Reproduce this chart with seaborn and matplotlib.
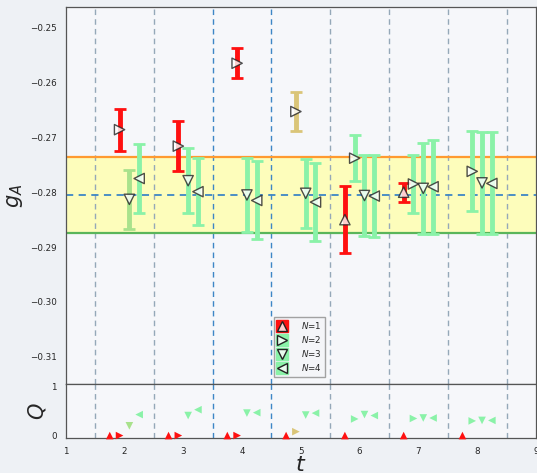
import numpy as np
import pandas as pd
import matplotlib
matplotlib.use("Agg")
import matplotlib.pyplot as plt
from matplotlib.colors import LinearSegmentedColormap
from matplotlib.lines import Line2D
from matplotlib.legend_handler import HandlerTuple
import seaborn as sns

# ---- data -------------------------------------------------------------
t_vals = [2, 3, 4, 5, 6, 7, 8]
n_states = [1, 2, 3, 4]

# g_A estimates and uncertainties for each number of states N
gA_N1 = [np.nan, np.nan, np.nan, np.nan, -0.2850, -0.2800, np.nan]
err_N1 = [np.nan, np.nan, np.nan, np.nan, 0.0061, 0.0017, np.nan]
gA_N2 = [-0.2686, -0.2716, -0.2565, -0.2653, -0.2738, -0.2785, -0.2762]
err_N2 = [0.0038, 0.0045, 0.0027, 0.0035, 0.0042, 0.0053, 0.0073]
gA_N3 = [-0.2813, -0.2779, -0.2805, -0.2802, -0.2806, -0.2793, -0.2783]
err_N3 = [0.0054, 0.0059, 0.0068, 0.0063, 0.0074, 0.0083, 0.0093]
gA_N4 = [-0.2775, -0.2799, -0.2815, -0.2818, -0.2807, -0.2790, -0.2784]
err_N4 = [0.0063, 0.0061, 0.0071, 0.0071, 0.0074, 0.0086, 0.0093]

# fit quality Q
Q_N1 = [0.0, 0.0, 0.0, 0.0, 0.0, 0.0, 0.0]
Q_N2 = [0.0, 0.0, 0.0, 0.08, 0.34, 0.35, 0.30]
Q_N3 = [0.20, 0.41, 0.46, 0.42, 0.43, 0.36, 0.31]
Q_N4 = [0.43, 0.53, 0.47, 0.46, 0.41, 0.36, 0.31]

# final band: central value and 1-sigma edges
band_center = -0.2805
band_upper = -0.27357
band_lower = -0.28738

divider_lines = [1.5, 2.5, 3.5, 4.5, 5.5, 6.5, 7.5, 8.5]
highlight_lines = [3.5, 4.5]
x_ticks = [1, 2, 3, 4, 5, 6, 7, 8, 9]
gA_ticks = [-0.25, -0.26, -0.27, -0.28, -0.29, -0.30, -0.31]

# ---- long table -------------------------------------------------------
gA_all = [gA_N1, gA_N2, gA_N3, gA_N4]
err_all = [err_N1, err_N2, err_N3, err_N4]
Q_all = [Q_N1, Q_N2, Q_N3, Q_N4]
rows = []
for n, g, e, q in zip(n_states, gA_all, err_all, Q_all):
    for t, gi, ei, qi in zip(t_vals, g, e, q):
        rows.append(dict(t=t, N=str(n), x=t + (n - 2.5) / 6.0,
                         gA=gi, err=ei, Q=qi))
df = pd.DataFrame(rows)

markers = {"1": "^", "2": ">", "3": "v", "4": "<"}
qcmap = LinearSegmentedColormap.from_list(
    "qfit",
    [(0.0, "#ff1010"), (0.08, "#d9c97a"), (0.2, "#a9e28c"),
     (0.3, "#8af2a8"), (1.0, "#8af2a8")])

# ---- figure -----------------------------------------------------------
sns.set_style("white")
plt.rcParams["font.family"] = ["DejaVu Sans"]

fig = plt.figure(figsize=(5.37, 4.73), dpi=100, facecolor="#eef1f5")
ax = fig.add_axes([0.1223, 0.1875, 0.8757, 0.7983])
axq = fig.add_axes([0.1223, 0.074, 0.8757, 0.1135], sharex=ax)
for a in (ax, axq):
    a.set_facecolor("#f6f7fa")
    for s in a.spines.values():
        s.set_color("#555555")
        s.set_linewidth(0.9)

# band
ax.axhspan(band_lower, band_upper, color="#ffffb0", alpha=0.85, zorder=0.5, lw=0)
ax.axhline(band_upper, color="#ff9a30", lw=1.6, zorder=1)
ax.axhline(band_lower, color="#5ab55a", lw=1.6, zorder=1)
ax.axhline(band_center, color="#3d86c6", lw=1.3, ls=(0, (4, 3)), zorder=1)

# time-slice dividers
for a in (ax, axq):
    for xv in divider_lines:
        c = "#3d86c6" if xv in highlight_lines else "#95a8b8"
        a.axvline(xv, color=c, lw=1.0, ls=(0, (4, 3)), zorder=0.8)

# error bars coloured by Q
for _, r in df.dropna(subset=["gA"]).iterrows():
    ax.errorbar(r["x"], r["gA"], yerr=r["err"], fmt="none",
                ecolor=qcmap(r["Q"]), elinewidth=3.5, capsize=4.5,
                capthick=2.0, zorder=2)

sns.scatterplot(data=df.dropna(subset=["gA"]), x="x", y="gA", style="N",
                markers=markers, color="white", edgecolor="#222222",
                linewidth=1.0, s=55, alpha=0.8, legend=False, ax=ax, zorder=3)

sns.scatterplot(data=df, x="x", y="Q", style="N", markers=markers,
                hue="Q", palette=qcmap, hue_norm=(0, 1), s=30,
                linewidth=0, legend=False, ax=axq, zorder=3, clip_on=False)

# axes ranges and ticks
ax.set_xlim(1, 9)
ax.set_ylim(-0.315, -0.2462)
ax.set_yticks(gA_ticks)
ax.tick_params(axis="y", labelsize=6.3, length=3, width=0.8, color="#333333")
ax.tick_params(axis="x", bottom=False, labelbottom=False)
ax.set_xlabel("")
ax.set_ylabel(r"$g_A$", fontsize=15)

axq.set_ylim(-0.05, 1.05)
axq.set_yticks([0, 1])
axq.set_xticks(x_ticks)
axq.tick_params(labelsize=6.3, length=3, width=0.8, color="#333333")
axq.set_xlabel(r"$t$", fontsize=16, labelpad=-1)
axq.set_ylabel(r"$Q$", fontsize=15)
ax.yaxis.set_label_coords(-0.087, 0.5)
axq.yaxis.set_label_coords(-0.038, 0.5)

# legend
handles = []
labels = []
for n in n_states:
    c = "#ff1010" if n == 1 else "#8af2a8"
    bg = Line2D([], [], ls="", marker="s", ms=9, mfc=c, mec=c)
    fg = Line2D([], [], ls="", marker=markers[str(n)], ms=6.5,
                mfc=(1, 1, 1, 0.8), mec="#222222", mew=1.0)
    handles.append((bg, fg))
    labels.append(rf"$N$={n}")
ax.legend(handles, labels, handler_map={tuple: HandlerTuple(ndivide=1)},
          loc="lower left", bbox_to_anchor=(0.433, 0.008), fontsize=6.3,
          frameon=True, edgecolor="#999999", facecolor="#f4f5f8",
          framealpha=0.9, handlelength=1.2, handletextpad=1.5,
          labelspacing=0.35, borderpad=0.4, fancybox=False)

fig.savefig("out.png", dpi=100, facecolor=fig.get_facecolor())
